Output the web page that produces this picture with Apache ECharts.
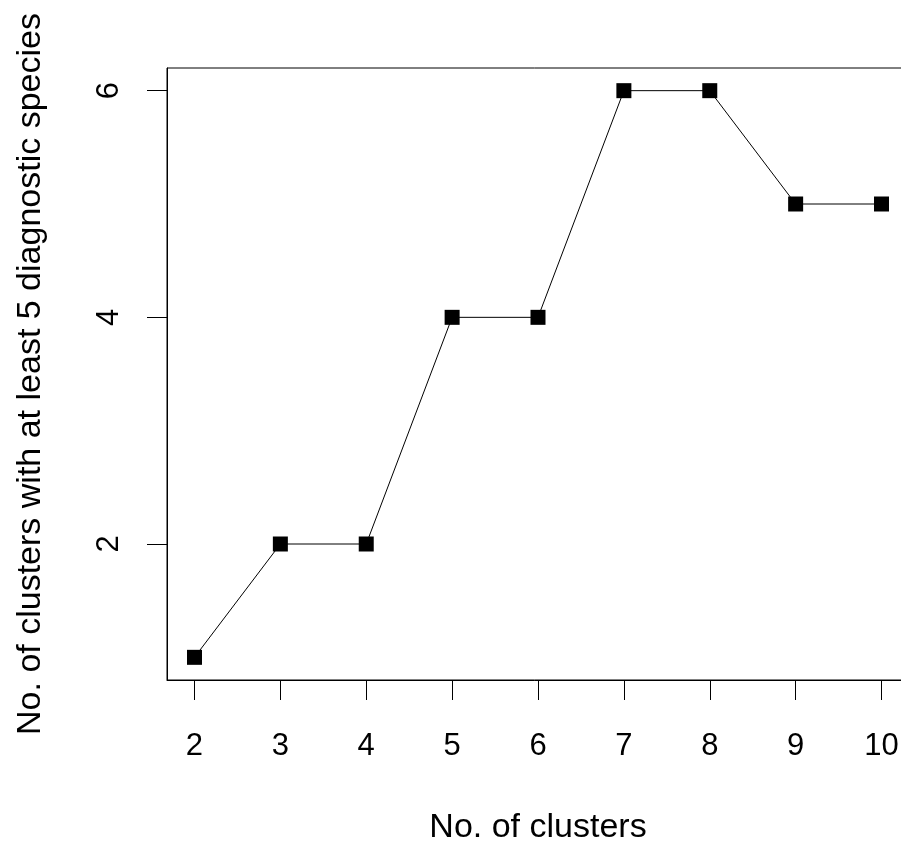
<!DOCTYPE html>
<html>
<head>
<meta charset="utf-8">
<script src="https://cdn.jsdelivr.net/npm/echarts@6/dist/echarts.min.js"></script>
<style>
  html, body { margin: 0; padding: 0; background: #fff; }
  #chart { width: 901px; height: 846px; }
</style>
</head>
<body>
<div id="chart"></div>
<script>
// number of clusters vs clusters with >= 5 diagnostic species
const clusters = [2, 3, 4, 5, 6, 7, 8, 9, 10]
const counts = [1, 2, 2, 4, 4, 6, 6, 5, 5]
const xTicks = [2, 3, 4, 5, 6, 7, 8, 9, 10]
const yTicks = [2, 4, 6]

const font = 'Liberation Sans, Arial, sans-serif'
const chart = echarts.init(document.getElementById('chart'))

chart.setOption({
  backgroundColor: '#fff',
  animation: false,
  grid: {
    left: 167, top: 68, width: 742, height: 612,
    show: true, borderColor: '#000', borderWidth: 1,
    containLabel: false, outerBoundsMode: 'none'
  },
  xAxis: {
    type: 'value',
    min: 1.68, max: 10.32,
    name: 'No. of clusters',
    nameLocation: 'middle',
    nameGap: 131,
    nameTextStyle: { color: '#000', fontSize: 34, fontFamily: font },
    axisLine: { show: true, lineStyle: { color: '#000', width: 1 } },
    axisTick: { show: true, length: 20, customValues: xTicks, lineStyle: { color: '#000' } },
    axisLabel: { customValues: xTicks, color: '#000', fontSize: 31, fontFamily: font, margin: 51 },
    splitLine: { show: false }
  },
  yAxis: {
    type: 'value',
    min: 0.8, max: 6.2,
    name: 'No. of clusters with at least 5 diagnostic species',
    nameLocation: 'middle',
    nameRotate: 90,
    nameGap: 119,
    nameTextStyle: { color: '#000', fontSize: 34, fontFamily: font },
    axisLine: { show: true, lineStyle: { color: '#000', width: 1 } },
    axisTick: { show: true, length: 20, customValues: yTicks, lineStyle: { color: '#000' } },
    axisLabel: { customValues: yTicks, rotate: 90, color: '#000', fontSize: 31, fontFamily: font, margin: 42 },
    splitLine: { show: false }
  },
  series: [{
    type: 'line',
    data: clusters.map((c, i) => [c, counts[i]]),
    symbol: 'rect',
    symbolSize: 15,
    itemStyle: { color: '#000' },
    lineStyle: { color: '#000', width: 1 }
  }]
})
</script>
</body>
</html>
